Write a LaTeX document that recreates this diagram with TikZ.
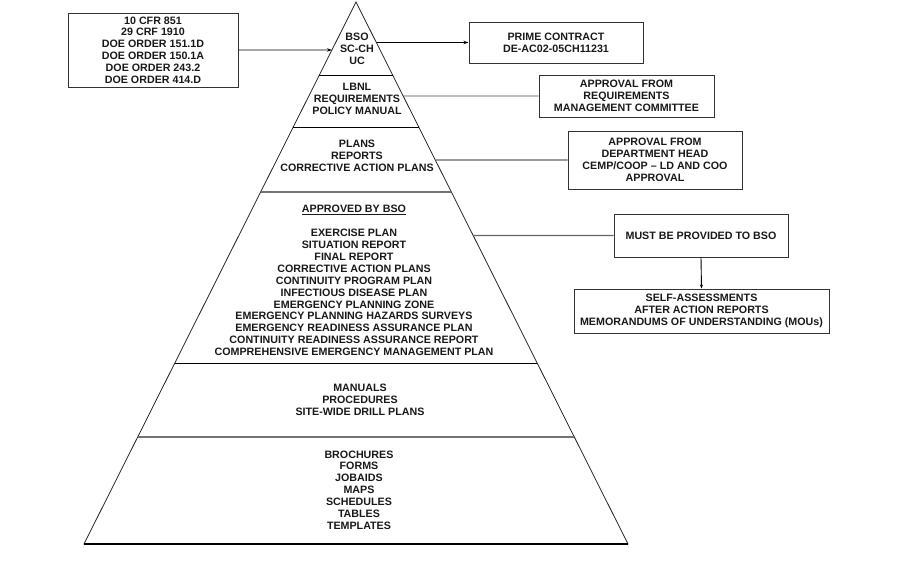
\documentclass[tikz,border=0pt]{standalone}
\usepackage{fontspec}
\setmainfont{Liberation Sans}
\usetikzlibrary{arrows.meta,calc}
\begin{document}
\begin{tikzpicture}[x=1pt,y=-1pt,
  every node/.style={font=\fontsize{10.7}{11.85}\selectfont\bfseries, text=black!90},
  txt/.style={align=center, inner sep=0pt},
  infobox/.style={draw=black!80, line width=1pt, fill=white, align=center, inner sep=0pt},
  link/.style={line width=0.9pt, draw=black!75},
  softlink/.style={line width=1.1pt, draw=black!60},
  arr/.style={line width=0.9pt, draw=black, -{Stealth[length=5pt,width=3.5pt]}},
  divider/.style={line width=1pt, draw=black},
  softdiv/.style={line width=1.6pt, draw=black!55},
  pyr/.style={line width=0.8pt, draw=black!85, fill=white},
  basestyle/.style={line width=1.4pt, draw=black}
]
\useasboundingbox (0,0) rectangle (900,560);

% pyramid
\coordinate (apex) at (356,2);
\coordinate (bl) at (84,544);
\coordinate (br) at (628,544);
\draw[pyr] (apex) -- (bl) -- (br) -- cycle;
\draw[basestyle] (bl) -- (br);

\foreach \y/\n in {76/1,127/2,192/3,363/4,437/5} {
  \coordinate (dl\n) at ($(apex)!{(\y-2)/542}!(bl)$);
  \coordinate (dr\n) at ($(apex)!{(\y-2)/542}!(br)$);
}
\draw[divider] (dl1) -- (dr1);
\draw[divider] (dl2) -- (dr2);
\draw[softdiv] (dl3) -- (dr3);
\draw[divider] (dl4) -- (dr4);
\draw[softdiv] (dl5) -- (dr5);

% pyramid texts
\node[txt] (s1) at (357,48.5) {BSO\\SC-CH\\UC};
\node[txt] (s2) at (357,99) {LBNL\\REQUIREMENTS\\POLICY MANUAL};
\node[txt] (s3) at (357,156) {PLANS\\REPORTS\\CORRECTIVE ACTION PLANS};
\node[txt] (s4h) at (354,210) {\underline{APPROVED BY BSO}};
\node[txt] (s4) at (354,292.5) {EXERCISE PLAN\\SITUATION REPORT\\FINAL REPORT\\CORRECTIVE ACTION PLANS\\CONTINUITY PROGRAM PLAN\\INFECTIOUS DISEASE PLAN\\EMERGENCY PLANNING ZONE\\EMERGENCY PLANNING HAZARDS SURVEYS\\EMERGENCY READINESS ASSURANCE PLAN\\CONTINUITY READINESS ASSURANCE REPORT\\COMPREHENSIVE EMERGENCY MANAGEMENT PLAN};
\node[txt] (s5) at (360,399.5) {MANUALS\\PROCEDURES\\SITE-WIDE DRILL PLANS};
\node[txt] (s6) at (359,490) {BROCHURES\\FORMS\\JOBAIDS\\MAPS\\SCHEDULES\\TABLES\\TEMPLATES};

% boxes
\node[infobox, minimum width=170pt, minimum height=74pt] (lbox) at (153,50)
  {10 CFR 851\\29 CRF 1910\\DOE ORDER 151.1D\\DOE ORDER 150.1A\\DOE ORDER 243.2\\DOE ORDER 414.D};
\node[infobox, minimum width=174pt, minimum height=41pt] (pc) at (556,42.5)
  {PRIME CONTRACT\\DE-AC02-05CH11231};
\node[infobox, minimum width=175pt, minimum height=42pt] (rm) at (626.5,96)
  {APPROVAL FROM\\REQUIREMENTS\\MANAGEMENT COMMITTEE};
\node[infobox, minimum width=174pt, minimum height=58pt] (dh) at (655,160)
  {APPROVAL FROM\\DEPARTMENT HEAD\\CEMP/COOP -- LD AND COO\\APPROVAL};
\node[infobox, minimum width=174pt, minimum height=43pt] (mb) at (701,235.5)
  {MUST BE PROVIDED TO BSO};
\node[infobox, minimum width=255pt, minimum height=44pt] (sa) at (701.5,311)
  {SELF-ASSESSMENTS\\AFTER ACTION REPORTS\\MEMORANDUMS OF UNDERSTANDING (MOUs)};

% edge points
\coordinate (el1) at ($(apex)!{(50-2)/542}!(bl)$);
\coordinate (er1) at ($(apex)!{(42.5-2)/542}!(br)$);
\coordinate (er2) at ($(apex)!{(96-2)/542}!(br)$);
\coordinate (er3) at ($(apex)!{(160-2)/542}!(br)$);
\coordinate (er4) at ($(apex)!{(235.5-2)/542}!(br)$);

% connectors
\draw[arr] (lbox.east) -- (el1);
\draw[arr] (er1) -- (pc.west);
\draw[link] (er2) -- (rm.west);
\draw[softlink] (er3) -- (dh.west);
\draw[softlink] (er4) -- (mb.west);
\draw[arr, -{Stealth[length=4pt,width=3pt]}] (mb.south) -- (sa.north);
\end{tikzpicture}
\end{document}
